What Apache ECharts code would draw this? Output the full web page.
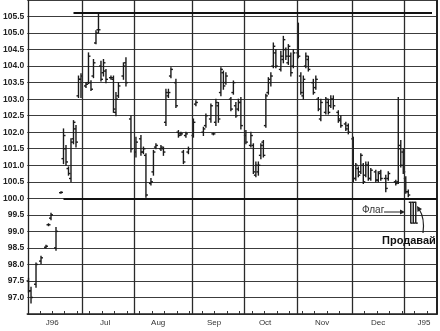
<!DOCTYPE html>
<html><head><meta charset="utf-8">
<script src="https://cdn.jsdelivr.net/npm/echarts@6/dist/echarts.min.js"></script>
<style>html,body{margin:0;padding:0;background:#fff}#c{width:440px;height:331px}</style>
</head><body><div id="c"></div>
<script>
// trading-day index of each bar (Jun 1996 .. Jan 1997)
const days = [
  0,1,3,5,7,8,9,11,13,14,15,16,17,18,19,20,21,
  23,24,25,26,27,28,29,30,31,33,34,35,36,38,39,41,
  43,45,46,47,49,50,51,53,54,55,56,57,59,60,61,62,63,64,
  66,67,70,71,73,74,75,76,77,78,79,81,82,83,84,85,
  87,89,90,91,92,93,94,95,96,97,98,99,101,102,103,104,105,106,
  108,109,110,111,112,114,115,116,117,119,120,121,122,124,125,127,128,
  130,131,132,133,134,135,136,137,139,140,141,143,144,147,148,149,150,
  151,152,153,154,155
];
const highs = [
  97.58,97.31,98.04,98.25,98.58,99.23,99.55,99.12,100.2,102.1,101.6,100.95,101.8,102.35,102.2,103.7,103.77,
  103.5,104.4,103.56,104.2,105.07,105.6,104.15,104.2,103.9,103.7,103.7,103.2,103.5,104.1,104.25,102.5,
  101.85,101.9,101.55,101.35,100.6,101.45,101.65,101.6,101.55,103.3,103.3,103.95,103.6,102.05,102.0,101.45,102.0,101.55,
  102.4,102.95,102.15,102.55,102.85,101.97,103.0,102.9,103.95,103.85,103.8,103.05,103.55,102.9,103.0,103.05,
  102.05,102.0,101.65,101.1,101.1,101.65,101.75,103.15,103.65,103.8,104.7,104.5,104.45,104.9,104.55,104.65,104.4,104.5,
  105.3,103.8,103.7,104.4,104.3,103.6,103.7,103.05,103.0,103.05,103.0,103.1,103.1,102.65,102.5,102.3,102.25,
  101.85,101.05,100.95,101.35,101.05,101.1,101.1,100.9,100.85,100.8,100.85,100.7,100.8,100.55,103.05,101.75,101.5,
  100.65,100.25,99.88,99.88,99.88
];
const lows = [
  97.16,96.83,97.31,98.03,98.50,99.17,99.35,98.43,100.15,101.05,101.0,100.7,100.5,101.65,101.55,103.05,103.05,
  103.35,103.47,103.26,103.65,104.68,105.0,103.55,103.7,103.5,103.6,102.6,102.5,103.05,103.6,103.4,101.4,
  101.25,101.3,101.35,100.03,100.4,100.7,101.5,101.45,101.3,102.2,103.05,103.65,102.75,101.85,101.9,101.05,101.85,101.35,
  101.85,102.8,101.9,102.15,102.3,101.92,102.2,102.3,103.1,103.3,103.45,102.65,103.15,102.45,102.65,102.1,
  101.65,101.55,100.75,100.65,100.7,101.2,101.25,102.15,103.15,103.4,103.95,103.95,103.85,104.1,104.2,104.05,103.7,103.95,
  104.25,103.15,103.0,103.95,103.85,103.15,103.3,102.65,102.35,102.55,102.55,102.75,102.7,102.3,102.15,102.05,101.95,
  100.5,100.55,100.65,100.75,100.45,100.65,100.55,100.55,100.5,100.5,100.55,100.2,100.55,100.4,100.45,100.95,100.75,
  100.15,100.05,99.25,99.25,99.25
];
const opens = [
  97.5,97.2,97.4,98.1,98.52,99.2,99.4,98.5,100.17,101.2,101.5,100.9,100.6,101.8,102.1,103.1,103.6,
  103.4,103.5,103.5,103.7,104.7,105.1,104.0,103.8,103.85,103.65,103.6,102.6,103.1,103.7,104.1,102.4,
  101.4,101.8,101.4,101.3,100.45,100.8,101.55,101.5,101.5,102.3,103.1,103.7,103.5,102.0,101.95,101.4,101.9,101.4,
  101.9,102.85,102.0,102.2,102.4,101.95,102.3,102.8,103.2,103.8,103.5,103.0,103.2,102.8,102.7,102.9,
  101.9,101.6,101.6,100.7,100.8,101.3,101.7,102.2,103.2,103.5,104.0,104.4,103.9,104.2,104.5,104.1,104.3,104.0,
  104.4,103.7,103.1,104.0,104.2,103.5,103.35,103.0,102.4,102.6,102.9,102.8,103.0,102.6,102.4,102.25,102.2,
  101.8,100.6,100.9,100.8,101.0,100.7,101.0,100.6,100.8,100.55,100.8,100.6,100.6,100.5,100.5,101.6,101.4,
  100.6,100.2,99.88,99.88,99.88
];
const closes = [
  97.2,97.0,98.0,98.2,98.55,99.2,99.5,99.0,100.18,101.9,101.1,100.75,101.7,102.3,101.7,103.6,103.7,
  103.45,104.3,103.3,104.1,105.0,105.1,103.6,104.1,103.6,103.65,102.7,103.0,103.4,104.0,103.5,101.5,
  101.7,101.4,101.5,100.1,100.5,101.4,101.6,101.55,101.4,103.2,103.2,103.9,102.8,101.9,101.95,101.1,101.95,101.5,
  102.3,102.9,102.1,102.5,102.8,101.95,102.9,102.4,103.9,103.4,103.7,102.7,103.5,102.5,102.9,102.2,
  101.7,101.9,100.8,101.0,101.0,101.6,101.3,103.1,103.6,103.7,104.6,104.0,104.3,104.8,104.3,104.6,103.8,104.4,
  104.3,103.2,103.6,104.3,103.9,103.2,103.6,102.7,102.9,103.0,102.6,103.0,102.8,102.35,102.2,102.1,102.0,
  100.6,101.0,100.7,101.3,100.5,101.0,100.6,100.85,100.55,100.75,100.6,100.3,100.75,100.45,101.5,101.0,100.8,
  100.2,100.1,99.25,99.25,99.25
];
// month boundaries (trading-day index) and month tick labels
const monthStarts = [21.5, 42.5, 65.5, 86.5, 107.5, 129.5, 150.5];
const monthLabelPos = [9.5, 30.7, 51.9, 74.3, 94.7, 117.5, 139.9, 158.3];
const monthLabels = ['J96','Jul','Aug','Sep','Oct','Nov','Dec','J95'];
// horizontal reference lines
const supportLevel = 100.0, supportFrom = 14, supportTo = 163.5;
const topLevel = 105.62, topFrom = 18, topTo = 161.5;

const weekTicks = [];
for (let d = 4.5; d < 163.5; d += 5) weekTicks.push(d);

const data = days.map((d, i) => [d, opens[i], closes[i], lows[i], highs[i]]);
const FONT = 'Liberation Sans';
const INK = '#1a1a1a';

const chart = echarts.init(document.getElementById('c'), null, {renderer: 'canvas'});
const markData = monthStarts.map(v => ({xAxis: v, lineStyle: {color: '#2a2a2a', width: 1.3, type: 'solid'}}));
markData.push([{coord: [supportFrom, supportLevel], lineStyle: {color: '#111', width: 2.2, type: 'solid'}}, {coord: [supportTo, supportLevel]}]);
markData.push([{coord: [topFrom, topLevel], lineStyle: {color: '#111', width: 2, type: 'solid'}}, {coord: [topTo, topLevel]}]);

chart.setOption({
  animation: false,
  backgroundColor: '#fff',
  grid: {left: 27, right: 3, top: 0, bottom: 17, containLabel: false},
  xAxis: {
    type: 'value', min: -0.5, max: 163.5,
    axisLine: {show: true, lineStyle: {color: '#222', width: 1.5}},
    axisTick: {show: true, customValues: weekTicks, inside: true, length: 3, lineStyle: {color: '#333', width: 1}},
    axisLabel: {
      customValues: monthLabelPos, margin: 5,
      fontFamily: FONT, fontSize: 8, color: '#333',
      formatter: v => {
        let best = 0;
        monthLabelPos.forEach((p, i) => { if (Math.abs(p - v) < Math.abs(monthLabelPos[best] - v)) best = i; });
        return monthLabels[best];
      }
    },
    splitLine: {show: false}
  },
  yAxis: [{
    type: 'value', min: 96.5, max: 106, interval: 0.5, position: 'left',
    axisLine: {show: true, lineStyle: {color: '#222', width: 1.3}},
    axisTick: {show: false},
    axisLabel: {
      margin: 3, fontFamily: FONT, fontSize: 8.5, fontWeight: 'bold', color: '#222',
      formatter: v => (v <= 96.5 || v >= 106) ? '' : v.toFixed(1)
    },
    splitLine: {show: true, lineStyle: {color: '#3c3c3c', width: 1}}
  }, {
    type: 'value', min: 96.5, max: 106, interval: 0.5, position: 'right',
    axisLine: {show: true, lineStyle: {color: '#222', width: 2}},
    axisTick: {show: false}, axisLabel: {show: false}, splitLine: {show: false}
  }],
  series: [{
    type: 'custom',
    data: data,
    encode: {x: 0, y: [1, 2, 3, 4]},
    renderItem: (params, api) => {
      const x = api.value(0);
      const pH = api.coord([x, api.value(4)]);
      const pL = api.coord([x, api.value(3)]);
      const pO = api.coord([x, api.value(1)]);
      const pC = api.coord([x, api.value(2)]);
      const t = 2;
      const style = {stroke: INK, lineWidth: 1.4};
      return {type: 'group', children: [
        {type: 'line', shape: {x1: pH[0], y1: pH[1] - 0.5, x2: pL[0], y2: pL[1] + 0.5}, style},
        {type: 'line', shape: {x1: pO[0] - t, y1: pO[1], x2: pO[0], y2: pO[1]}, style},
        {type: 'line', shape: {x1: pC[0], y1: pC[1], x2: pC[0] + t, y2: pC[1]}, style}
      ]};
    },
    markLine: {silent: true, symbol: ['none', 'none'], label: {show: false}, animation: false, data: markData},
    z: 3
  }],
  graphic: [
    {type: 'text', x: 362, y: 205, style: {text: 'Флаг', font: '10px ' + FONT, fill: '#333'}, z: 10},
    {type: 'line', shape: {x1: 384, y1: 212, x2: 402, y2: 212}, style: {stroke: '#222', lineWidth: 1}, z: 10},
    {type: 'polygon', shape: {points: [[405, 212], [400, 209.5], [400, 214.5]]}, style: {fill: '#222'}, z: 10},
    {type: 'text', x: 382, y: 235, style: {text: 'Продавай', font: 'bold 11px ' + FONT, fill: '#111'}, z: 10},
    {type: 'bezierCurve', shape: {x1: 423, y1: 233, cpx1: 425, cpy1: 218, x2: 419, y2: 209}, style: {stroke: '#222', lineWidth: 1.2, fill: null}, z: 10},
    {type: 'polygon', shape: {points: [[417, 206], [417.5, 212], [422, 209]]}, style: {fill: '#222'}, z: 10}
  ]
});
</script>
</body></html>
